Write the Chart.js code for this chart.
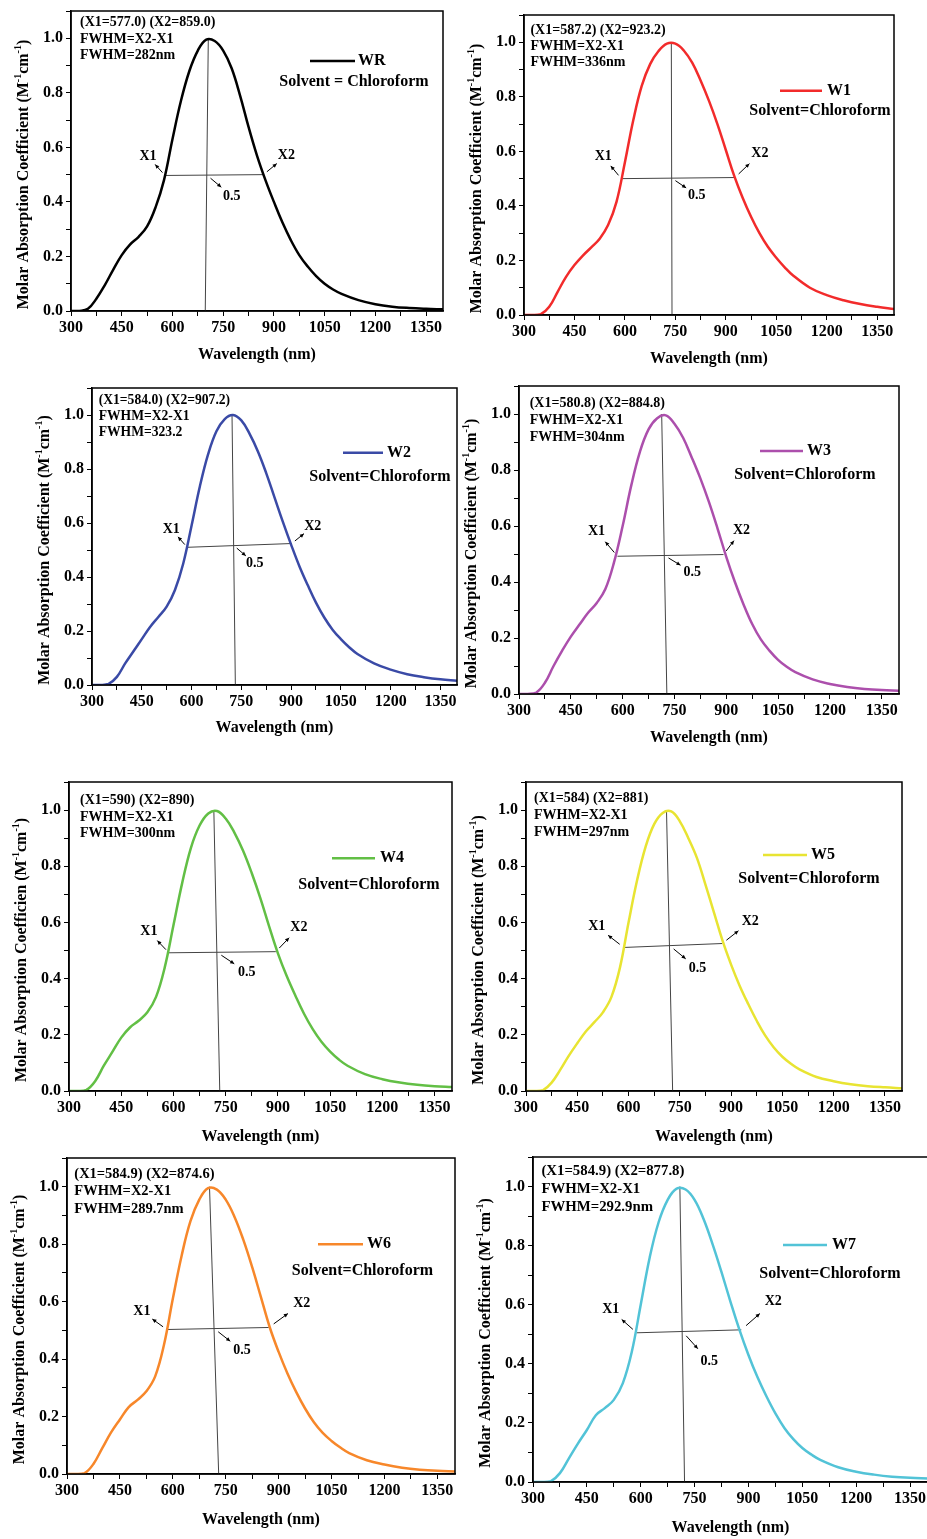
<!DOCTYPE html>
<html lang="en">
<head>
<meta charset="UTF-8" />
<title>Molar absorption spectra WR, W1-W7</title>
<script src="https://cdn.jsdelivr.net/npm/chart.js"></script>
<style>
  * { box-sizing: border-box; }
  body { margin: 0; background: #fff; width: 927px; height: 1539px; overflow: hidden; position: relative; }
  canvas { position: absolute; }
</style>
</head>
<body>
<script>
// wavelength grid (nm) shared by every spectrum
const wavelength = [300, 325, 350, 375, 400, 425, 450, 475, 500, 525, 550, 575, 600, 625, 650, 675, 700, 725, 750, 775, 800, 825, 850, 875, 900, 925, 950, 975, 1000, 1025, 1050, 1075, 1100, 1150, 1200, 1250, 1300, 1350, 1400];

// normalised absorption
const absWR = [0, 0, 0.008, 0.045, 0.095, 0.152, 0.205, 0.244, 0.272, 0.31, 0.38, 0.48, 0.63, 0.77, 0.88, 0.955, 0.995, 0.99, 0.955, 0.89, 0.79, 0.675, 0.57, 0.48, 0.4, 0.325, 0.26, 0.205, 0.163, 0.128, 0.1, 0.079, 0.063, 0.04, 0.025, 0.016, 0.011, 0.008, 0.006];
const absW1 = [0, 0, 0.003, 0.03, 0.085, 0.14, 0.183, 0.218, 0.248, 0.28, 0.33, 0.415, 0.56, 0.715, 0.84, 0.92, 0.968, 0.995, 0.995, 0.97, 0.925, 0.86, 0.785, 0.7, 0.605, 0.51, 0.43, 0.36, 0.3, 0.25, 0.21, 0.175, 0.145, 0.1, 0.073, 0.054, 0.04, 0.03, 0.022];
const absW2 = [0, 0, 0.004, 0.03, 0.08, 0.125, 0.17, 0.215, 0.252, 0.29, 0.352, 0.45, 0.59, 0.735, 0.855, 0.94, 0.985, 1.0, 0.98, 0.93, 0.865, 0.785, 0.695, 0.605, 0.52, 0.44, 0.37, 0.305, 0.25, 0.205, 0.17, 0.14, 0.115, 0.08, 0.057, 0.04, 0.029, 0.021, 0.016];
const absW3 = [0, 0, 0.005, 0.04, 0.1, 0.155, 0.205, 0.248, 0.29, 0.325, 0.375, 0.47, 0.6, 0.745, 0.865, 0.945, 0.985, 0.995, 0.965, 0.915, 0.845, 0.77, 0.685, 0.59, 0.49, 0.4, 0.32, 0.25, 0.195, 0.155, 0.122, 0.097, 0.078, 0.052, 0.036, 0.025, 0.018, 0.014, 0.012];
const absW4 = [0, 0, 0.004, 0.035, 0.09, 0.14, 0.19, 0.226, 0.25, 0.28, 0.335, 0.44, 0.59, 0.74, 0.865, 0.945, 0.988, 0.997, 0.97, 0.92, 0.855, 0.775, 0.685, 0.585, 0.49, 0.41, 0.34, 0.275, 0.22, 0.175, 0.14, 0.112, 0.09, 0.06, 0.042, 0.03, 0.022, 0.017, 0.014];
const absW5 = [0, 0, 0.003, 0.03, 0.075, 0.125, 0.17, 0.212, 0.245, 0.28, 0.335, 0.44, 0.6, 0.75, 0.87, 0.95, 0.99, 0.995, 0.96, 0.9, 0.83, 0.735, 0.635, 0.535, 0.45, 0.375, 0.31, 0.25, 0.197, 0.155, 0.122, 0.097, 0.077, 0.05, 0.035, 0.024, 0.017, 0.013, 0.01];
const absW6 = [0, 0, 0.003, 0.035, 0.09, 0.145, 0.19, 0.233, 0.258, 0.288, 0.34, 0.45, 0.61, 0.76, 0.88, 0.955, 0.995, 0.99, 0.955, 0.895, 0.815, 0.72, 0.615, 0.51, 0.425, 0.35, 0.285, 0.228, 0.18, 0.143, 0.115, 0.092, 0.073, 0.048, 0.033, 0.022, 0.015, 0.011, 0.009];
const absW7 = [0, 0, 0.003, 0.03, 0.08, 0.13, 0.176, 0.226, 0.25, 0.278, 0.334, 0.44, 0.6, 0.76, 0.88, 0.955, 0.993, 0.99, 0.955, 0.89, 0.805, 0.71, 0.61, 0.515, 0.43, 0.355, 0.29, 0.232, 0.183, 0.145, 0.115, 0.093, 0.075, 0.05, 0.035, 0.025, 0.018, 0.014, 0.012];

const seriesNames = ['WR', 'W1', 'W2', 'W3', 'W4', 'W5', 'W6', 'W7'];
const seriesValues = [absWR, absW1, absW2, absW3, absW4, absW5, absW6, absW7];

// FWHM construction lines (peak drop line and half-maximum line)
const peakTopNm = [706, 738, 722, 713, 716, 711, 704, 709];
const peakBaseNm = [697, 740, 732, 728, 733, 729, 730, 722];
const x1Nm = [578, 589, 587, 585, 587, 586, 583, 589];
const x1Level = [0.497, 0.5, 0.51, 0.492, 0.492, 0.511, 0.503, 0.505];
const x2Nm = [869, 927, 902, 892, 894, 874, 872, 880];
const x2Level = [0.5, 0.504, 0.524, 0.498, 0.496, 0.525, 0.51, 0.515];

const fwhmNotes = [
  ['(X1=577.0) (X2=859.0)', 'FWHM=X2-X1', 'FWHM=282nm'],
  ['(X1=587.2) (X2=923.2)', 'FWHM=X2-X1', 'FWHM=336nm'],
  ['(X1=584.0) (X2=907.2)', 'FWHM=X2-X1', 'FWHM=323.2'],
  ['(X1=580.8) (X2=884.8)', 'FWHM=X2-X1', 'FWHM=304nm'],
  ['(X1=590) (X2=890)', 'FWHM=X2-X1', 'FWHM=300nm'],
  ['(X1=584) (X2=881)', 'FWHM=X2-X1', 'FWHM=297nm'],
  ['(X1=584.9) (X2=874.6)', 'FWHM=X2-X1', 'FWHM=289.7nm'],
  ['(X1=584.9) (X2=877.8)', 'FWHM=X2-X1', 'FWHM=292.9nm']
];
const solventText = ['Solvent = Chloroform', 'Solvent=Chloroform', 'Solvent=Chloroform', 'Solvent=Chloroform',
  'Solvent=Chloroform', 'Solvent=Chloroform', 'Solvent=Chloroform', 'Solvent=Chloroform'];
const yTitleText = ['Molar Absorption Coefficient', 'Molar Absorption Coefficient', 'Molar Absorption Coefficient',
  'Molar Absorption Coefficient', 'Molar Absorption Coefficien', 'Molar Absorption Coefficient',
  'Molar Absorption Coefficient', 'Molar Absorption Coefficient'];

// tick labels
const xLabelValues = [300, 450, 600, 750, 900, 1050, 1200, 1350];
const yLabelValues = [0, 0.2, 0.4, 0.6, 0.8, 1.0];

// styling / layout (page pixels)
const seriesColors = ['#000000', '#f22b2b', '#3a4aa6', '#ac4fac', '#62bf45', '#e8e432', '#f7872a', '#52c3d7'];
const panelLayout = [
  { plot: [71, 11, 443, 311],   note: [9, 11.7, 16.3, 14],   legend: [310, 355, 61, 358, 354, 81.7],       lab: [[-17, -19], [23, -19], [25, 21]],  xGap: 44 },
  { plot: [524, 15, 894, 315],  note: [6.4, 15, 16.3, 14],   legend: [780, 822, 90.7, 827, 820, 111],       lab: [[-18, -22], [25, -24], [25, 17]],  xGap: 44 },
  { plot: [92, 388, 457, 685],  note: [6.7, 12.4, 16, 13.6], legend: [343, 383, 452.7, 387, 380, 476.7],    lab: [[-16, -18], [21, -17], [21, 18]],  xGap: 43 },
  { plot: [519, 386, 899, 694], note: [10.7, 17.6, 17, 14],  legend: [760, 803, 451, 807, 805, 475],        lab: [[-21, -25], [18, -24], [28, 17]],  xGap: 44 },
  { plot: [69, 782, 452, 1091], note: [11, 18.3, 16.7, 14],  legend: [332, 375, 858.3, 380, 369, 885],      lab: [[-20, -21], [23, -24], [30, 20]],  xGap: 46 },
  { plot: [526, 782, 902, 1091],note: [8, 16.7, 16.7, 14],   legend: [763, 807, 855, 811, 809, 879.3],      lab: [[-27, -21], [28, -22], [28, 23]],  xGap: 45.5 },
  { plot: [67, 1158, 455, 1474],note: [7.3, 16, 17.5, 14.5], legend: [318, 363, 1244.3, 367, 362.5, 1270.7], lab: [[-25, -18], [33, -24], [28, 22]],  xGap: 45.5 },
  { plot: [533, 1157, 928, 1482],note: [8.4, 14, 18.3, 14.8],legend: [783, 827, 1245, 832, 830, 1274.3],     lab: [[-26, -23], [32, -28], [27, 30]],  xGap: 46 }
];
const PAD_L = 70, PAD_T = 14, PAD_R = 14, PAD_B = 60;
const SERIF = '"Liberation Serif", "Times New Roman", serif';

Chart.defaults.font.family = SERIF;
Chart.defaults.font.weight = 'bold';
Chart.defaults.font.size = 16;
Chart.defaults.color = '#000';

function drawArrow(ctx, x0, y0, x1, y1) {
  ctx.beginPath();
  ctx.moveTo(x0, y0);
  ctx.lineTo(x1, y1);
  ctx.stroke();
  const a = Math.atan2(y1 - y0, x1 - x0), s = 4.5;
  ctx.beginPath();
  ctx.moveTo(x1, y1);
  ctx.lineTo(x1 - s * Math.cos(a - 0.45), y1 - s * Math.sin(a - 0.45));
  ctx.lineTo(x1 - s * Math.cos(a + 0.45), y1 - s * Math.sin(a + 0.45));
  ctx.closePath();
  ctx.fill();
}

function drawYTitle(ctx, text, cx, cy) {
  const parts = [[text + ' (M', 16, 0], ['-1', 10, -6], ['cm', 16, 0], ['-1', 10, -6], [')', 16, 0]];
  ctx.save();
  ctx.translate(cx, cy);
  ctx.rotate(-Math.PI / 2);
  ctx.textBaseline = 'middle';
  ctx.textAlign = 'left';
  let total = 0;
  parts.forEach(p => { ctx.font = `bold ${p[1]}px ${SERIF}`; total += ctx.measureText(p[0]).width; });
  let x = -total / 2;
  parts.forEach(p => {
    ctx.font = `bold ${p[1]}px ${SERIF}`;
    ctx.fillText(p[0], x, p[2]);
    x += ctx.measureText(p[0]).width;
  });
  ctx.restore();
}

const figurePlugin = {
  id: 'figure',
  afterDraw(chart) {
    const i = chart.options.plugins.figure.index;
    const lay = panelLayout[i];
    const ctx = chart.ctx;
    const area = chart.chartArea;
    const xs = chart.scales.x, ys = chart.scales.y;
    const offX = lay.plot[0] - PAD_L, offY = lay.plot[1] - PAD_T;

    ctx.save();
    // frame
    ctx.strokeStyle = '#000';
    ctx.lineWidth = 1.5;
    ctx.strokeRect(area.left, area.top, area.right - area.left, area.bottom - area.top);

    // y axis title
    ctx.fillStyle = '#000';
    drawYTitle(ctx, yTitleText[i], area.left - 47, (area.top + area.bottom) / 2 + 13.5);

    // FWHM notes, top left
    const [ndx, ndy, nls, nfs] = lay.note;
    ctx.font = `bold ${nfs}px ${SERIF}`;
    ctx.textAlign = 'left';
    ctx.textBaseline = 'middle';
    fwhmNotes[i].forEach((line, k) => ctx.fillText(line, area.left + ndx, area.top + ndy + k * nls));

    // legend
    const lg = lay.legend;
    ctx.strokeStyle = seriesColors[i];
    ctx.lineWidth = 2.5;
    ctx.beginPath();
    ctx.moveTo(lg[0] - offX, lg[2] - offY);
    ctx.lineTo(lg[1] - offX, lg[2] - offY);
    ctx.stroke();
    ctx.font = `bold 16px ${SERIF}`;
    ctx.fillText(seriesNames[i], lg[3] - offX, lg[2] - offY);
    ctx.textAlign = 'center';
    ctx.fillText(solventText[i], lg[4] - offX, lg[5] - offY);

    // X1 / X2 / 0.5 pointers
    ctx.strokeStyle = '#000';
    ctx.fillStyle = '#000';
    ctx.lineWidth = 1;
    const yc = (x1Level[i] + x2Level[i]) / 2;
    const xc = peakBaseNm[i] + (peakTopNm[i] - peakBaseNm[i]) * yc;
    const anchors = [
      [xs.getPixelForValue(x1Nm[i]), ys.getPixelForValue(x1Level[i]), 'X1'],
      [xs.getPixelForValue(x2Nm[i]), ys.getPixelForValue(x2Level[i]), 'X2'],
      [xs.getPixelForValue(xc), ys.getPixelForValue(yc), '0.5']
    ];
    ctx.font = `bold 14px ${SERIF}`;
    anchors.forEach((a, k) => {
      const [dx, dy] = lay.lab[k];
      drawArrow(ctx, a[0] + dx * 0.15, a[1] + dy * 0.15, a[0] + dx * 0.58, a[1] + dy * 0.58);
      ctx.fillText(a[2], a[0] + dx, a[1] + dy);
    });
    ctx.restore();
  }
};

panelLayout.forEach((lay, i) => {
  const [pl, pt, pr, pb] = lay.plot;
  const canvas = document.createElement('canvas');
  canvas.width = (pr - pl) + PAD_L + PAD_R;
  canvas.height = (pb - pt) + PAD_T + PAD_B;
  canvas.style.left = (pl - PAD_L) + 'px';
  canvas.style.top = (pt - PAD_T) + 'px';
  document.body.appendChild(canvas);

  const curve = wavelength.map((w, k) => ({ x: w, y: seriesValues[i][k] }));
  const dropLine = [{ x: peakTopNm[i], y: 1.0 }, { x: peakBaseNm[i], y: 0 }];
  const halfLine = [{ x: x1Nm[i], y: x1Level[i] }, { x: x2Nm[i], y: x2Level[i] }];

  new Chart(canvas.getContext('2d'), {
    type: 'line',
    data: {
      datasets: [
        { label: seriesNames[i], data: curve, borderColor: seriesColors[i], borderWidth: 2.5, pointRadius: 0, tension: 0.4 },
        { label: 'peak', data: dropLine, borderColor: '#444', borderWidth: 1, pointRadius: 0 },
        { label: 'half', data: halfLine, borderColor: '#444', borderWidth: 1, pointRadius: 0 }
      ]
    },
    options: {
      responsive: false,
      animation: false,
      devicePixelRatio: 1,
      layout: { padding: { left: 0, top: PAD_T, right: PAD_R, bottom: 0 } },
      plugins: { legend: { display: false }, tooltip: { enabled: false }, figure: { index: i } },
      scales: {
        x: {
          type: 'linear', min: 300, max: 1400,
          afterFit(scale) { scale.height = PAD_B; },
          border: { display: true, color: '#000', width: 1.5 },
          grid: { display: true, drawOnChartArea: false, drawTicks: true, tickLength: 5, tickColor: '#000', tickWidth: 1 },
          ticks: {
            stepSize: 75, includeBounds: false, autoSkip: false, maxRotation: 0, padding: 2, color: '#000',
            font: { size: 16, weight: 'bold' },
            callback: v => xLabelValues.includes(v) ? String(v) : ''
          },
          title: { display: true, text: 'Wavelength (nm)', font: { size: 16, weight: 'bold' }, color: '#000',
                   padding: { top: 0, bottom: PAD_B - lay.xGap - 9.6 } }
        },
        y: {
          type: 'linear', min: 0, max: 1.1,
          afterFit(scale) { scale.width = PAD_L; },
          border: { display: true, color: '#000', width: 1.5 },
          grid: { display: true, drawOnChartArea: false, drawTicks: true, tickLength: 5, tickColor: '#000', tickWidth: 1 },
          ticks: {
            stepSize: 0.1, includeBounds: false, autoSkip: false, padding: 3, color: '#000',
            font: { size: 16, weight: 'bold' },
            callback: v => yLabelValues.some(t => Math.abs(t - v) < 1e-6) ? v.toFixed(1) : ''
          }
        }
      }
    },
    plugins: [figurePlugin]
  });
});
</script>
</body>
</html>
